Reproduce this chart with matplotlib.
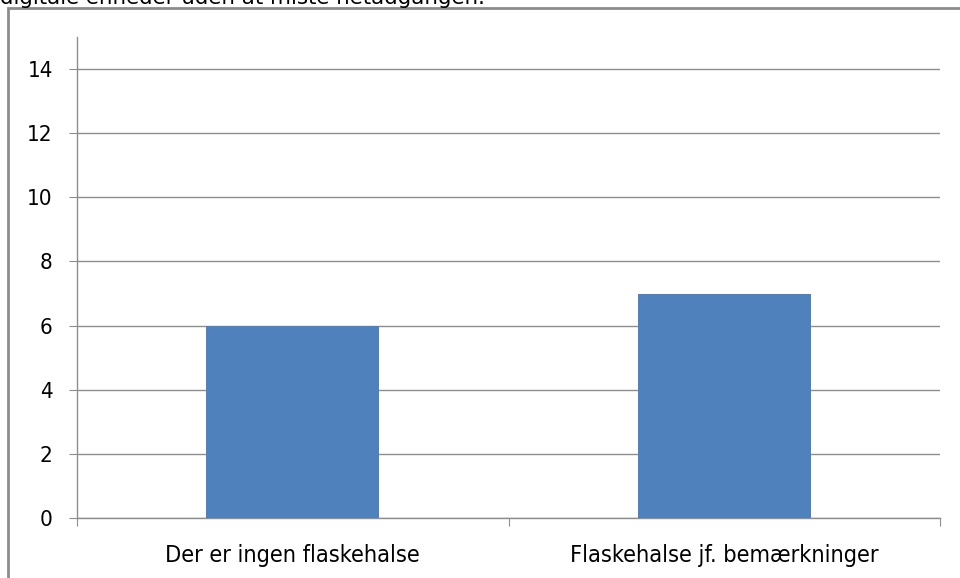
import matplotlib.pyplot as plt
from matplotlib.patches import Rectangle

# data
categories = ["Der er ingen flaskehalse", "Flaskehalse jf. bemærkninger"]
values = [6, 7]
yticks = [0, 2, 4, 6, 8, 10, 12, 14]

plt.rcParams['font.family'] = ['DejaVu Sans']
plt.rcParams['font.stretch'] = 'condensed'

fig = plt.figure(figsize=(9.6, 5.78), dpi=100)
ax = fig.add_axes([77/960, 1 - 518/578, (940 - 77)/960, (518 - 37)/578])

x = list(range(len(categories)))
ax.bar(x, values, width=0.4, color="#4F81BD", zorder=3)

ax.set_xlim(-0.5, len(categories) - 0.5)
ax.set_ylim(0, 15)
ax.set_yticks(yticks)
ax.set_yticklabels([str(t) for t in yticks], fontsize=16)
ax.yaxis.grid(True, color="#8E8E8E", linewidth=1)
ax.set_axisbelow(True)

# category boundaries as tick marks, labels at centres
ax.set_xticks([i - 0.5 for i in range(len(categories) + 1)])
ax.set_xticklabels([])
ax.set_xticks(x, minor=True)
ax.set_xticklabels(categories, minor=True, fontsize=16.8)
ax.tick_params(axis='x', which='major', length=6, color="#8E8E8E", direction='out')
ax.tick_params(axis='x', which='minor', length=0, pad=19)
ax.tick_params(axis='y', length=6, color="#8E8E8E", pad=11.5)

for s in ["top", "right"]:
    ax.spines[s].set_visible(False)
for s in ["left", "bottom"]:
    ax.spines[s].set_color("#8E8E8E")
    ax.spines[s].set_linewidth(1)

# outer frame of the embedded chart
fig.patches.append(Rectangle((8/960, -0.1), 1.1, 1 - 8/578 + 0.1, transform=fig.transFigure,
                             fill=False, edgecolor="#8C8C8C", linewidth=2))

# clipped text from the page above the chart
fig.text(0.0, 1 - 4/578, "digitale enheder uden at miste netadgangen.", fontsize=15.4,
         fontstretch='normal', va='baseline', ha='left', color="black")

fig.savefig("out.png", dpi=100)
